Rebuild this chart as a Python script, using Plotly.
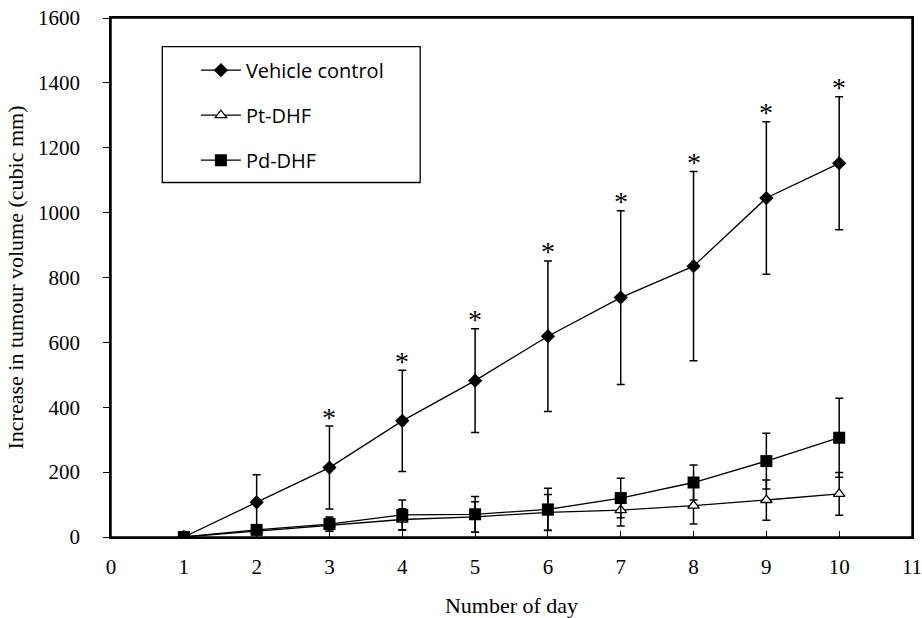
import plotly.graph_objects as go

days = [1, 2, 3, 4, 5, 6, 7, 8, 9, 10]
vehicle = [0, 107, 214, 358, 482, 619, 738, 835, 1045, 1152]
vehicle_err = [0, 85, 128, 156, 160, 232, 268, 292, 235, 205]
pt_dhf = [0, 18, 38, 54, 62, 76, 83, 97, 114, 133]
pt_err = [0, 10, 20, 33, 47, 55, 49, 57, 62, 66]
pd_dhf = [0, 22, 40, 68, 70, 85, 120, 168, 234, 306]
pd_err = [0, 12, 22, 46, 55, 65, 61, 54, 86, 122]
sig_days = [3, 4, 5, 6, 7, 8, 9, 10]

x_ticks = list(range(0, 12))
y_ticks = list(range(0, 1601, 200))

serif = "Liberation Serif, Times New Roman, serif"
sans = "Open Sans, DejaVu Sans, sans-serif"

fig = go.Figure()

def err(a):
    return dict(type="data", array=a, visible=True, color="black", thickness=1.5, width=4)

fig.add_trace(go.Scatter(x=days, y=vehicle, name="Vehicle control", mode="lines+markers",
                         legendgroup="a",
                         line=dict(color="black", width=1.3),
                         marker=dict(symbol="diamond", size=11, color="black"),
                         error_y=err(vehicle_err)))
fig.add_trace(go.Scatter(x=days, y=pt_dhf, name="Pt-DHF", mode="lines+markers",
                         legendgroup="b",
                         line=dict(color="black", width=1.3),
                         marker=dict(symbol="triangle-up", size=10, color="white",
                                     line=dict(color="black", width=1.3)),
                         error_y=err(pt_err)))
fig.add_trace(go.Scatter(x=days, y=pd_dhf, name="Pd-DHF", mode="lines+markers",
                         legendgroup="c",
                         line=dict(color="black", width=1.3),
                         marker=dict(symbol="square", size=12, color="black"),
                         error_y=err(pd_err)))

for d in sig_days:
    i = days.index(d)
    fig.add_annotation(x=d, y=vehicle[i] + vehicle_err[i], text="*", showarrow=False,
                       xanchor="center", yanchor="middle", yshift=9,
                       font=dict(family=serif, size=28, color="black"))

fig.add_shape(type="rect", xref="paper", yref="paper", x0=0.064, x1=0.386, y0=0.683, y1=0.945,
              line=dict(color="black", width=1.3), fillcolor="rgba(0,0,0,0)", layer="below")
fig.add_shape(type="rect", xref="paper", yref="paper", x0=0, x1=1, y0=0, y1=1,
              line=dict(color="black", width=1.5), fillcolor="rgba(0,0,0,0)", layer="above")

fig.update_layout(
    width=922, height=618,
    margin=dict(l=111, r=10, t=18, b=81, autoexpand=False),
    paper_bgcolor="white", plot_bgcolor="white",
    font=dict(family=serif, size=21, color="black"),
    legend=dict(x=0.106, y=0.937, xanchor="left", yanchor="top",
                borderwidth=0, bgcolor="rgba(0,0,0,0)",
                font=dict(family=sans, size=20, color="black"),
                tracegroupgap=16, itemwidth=40),
    showlegend=True,
)
fig.update_xaxes(range=[0, 11], tickvals=x_ticks, ticks="inside", ticklen=6,
                 tickcolor="black", showline=True, linecolor="black", linewidth=1.5,
                 mirror=True, showgrid=False, zeroline=False, automargin=False,
                 ticklabelstandoff=10, ticklabeloverflow="allow",
                 title=dict(text="Number of day", font=dict(family=serif, size=22), standoff=22))
fig.update_yaxes(range=[0, 1600], tickvals=y_ticks, ticks="outside", ticklen=6,
                 tickcolor="black", showline=True, linecolor="black", linewidth=1.5,
                 mirror=True, showgrid=False, zeroline=False, automargin=False,
                 ticklabelstandoff=19, ticklabeloverflow="allow",
                 title=dict(text="Increase in tumour volume (cubic mm)", font=dict(family=serif, size=22), standoff=8))

fig.write_html("out.html", config={"displayModeBar": False},
               post_script="document.body.style.margin='0';")
